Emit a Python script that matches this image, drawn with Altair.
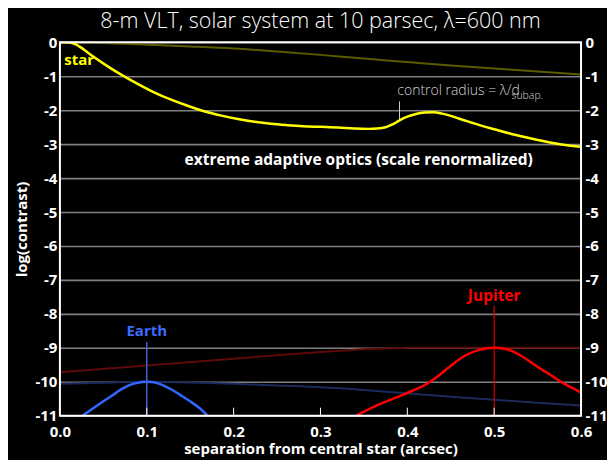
import altair as alt
import pandas as pd

# ---------------- data ----------------
star_x = [0.0, 0.008, 0.016, 0.024, 0.032, 0.04, 0.055, 0.071, 0.09, 0.109, 0.128, 0.147,
          0.166, 0.186, 0.205, 0.224, 0.243, 0.262, 0.28, 0.30, 0.32, 0.339, 0.355, 0.365,
          0.375, 0.383, 0.391, 0.40, 0.41, 0.42, 0.43, 0.44, 0.46, 0.483, 0.50, 0.52, 0.54,
          0.56, 0.58, 0.60]
star_y = [0.0, 0.0, -0.04, -0.15, -0.3, -0.45, -0.71, -0.96, -1.23, -1.48, -1.69, -1.87,
          -2.03, -2.16, -2.26, -2.34, -2.40, -2.44, -2.47, -2.49, -2.51, -2.54, -2.55, -2.54,
          -2.5, -2.42, -2.3, -2.19, -2.11, -2.07, -2.06, -2.1, -2.25, -2.44, -2.56, -2.7, -2.82,
          -2.93, -3.02, -3.08]

star_dim_x = [0.0, 0.05, 0.1, 0.15, 0.2, 0.25, 0.3, 0.35, 0.4, 0.45, 0.5, 0.55, 0.6]
star_dim_y = [0.0, -0.02, -0.07, -0.12, -0.18, -0.27, -0.37, -0.48, -0.58, -0.68, -0.77, -0.86, -0.95]

earth_x = [0.026, 0.04, 0.054, 0.065, 0.073, 0.08, 0.088, 0.094, 0.1, 0.106, 0.112, 0.12,
           0.13, 0.14, 0.149, 0.16, 0.17]
earth_y = [-11.0, -10.75, -10.51, -10.32, -10.19, -10.1, -10.04, -10.01, -10.0, -10.01, -10.04,
           -10.12, -10.25, -10.41, -10.56, -10.76, -11.0]

earth_dim_x = [0.0, 0.05, 0.1, 0.15, 0.2, 0.25, 0.3, 0.35, 0.4, 0.45, 0.5, 0.55, 0.6]
earth_dim_y = [-10.06, -10.03, -10.0, -10.02, -10.06, -10.11, -10.16, -10.24, -10.34, -10.44,
               -10.53, -10.62, -10.7]

jup_x = [0.341, 0.368, 0.399, 0.425, 0.44, 0.452, 0.465, 0.479, 0.49, 0.5, 0.51, 0.52, 0.535,
         0.548, 0.565, 0.578, 0.59, 0.6]
jup_y = [-11.0, -10.66, -10.34, -10.02, -9.74, -9.49, -9.25, -9.09, -9.02, -9.0, -9.02, -9.09,
         -9.3, -9.53, -9.8, -10.02, -10.18, -10.32]

jup_dim_x = [0.0, 0.1, 0.2, 0.3, 0.35, 0.4, 0.5, 0.6]
jup_dim_y = [-9.72, -9.52, -9.32, -9.12, -9.04, -9.0, -9.0, -9.0]

y_ticks = [0, -1, -2, -3, -4, -5, -6, -7, -8, -9, -10, -11]
x_ticks = [0.0, 0.1, 0.2, 0.3, 0.4, 0.5, 0.6]
inner_ticks = [0.1, 0.2, 0.3, 0.4, 0.5]

earth_sep, earth_line_top, earth_label_y = 0.1, -8.83, -8.51
jup_sep, jup_line_top, jup_label_y = 0.5, -7.75, -7.46
ctrl_sep, ctrl_top, ctrl_bottom = 0.391, -1.74, -2.28

# ---------------- scales ----------------
xs = alt.Scale(domain=[0, 0.6], nice=False, zero=False)
ys = alt.Scale(domain=[-11, 0], nice=False, zero=False)

FONT = "Open Sans"
HYPHEN = "toString(datum.value)"


def line(xv, yv, color, width, interp="monotone"):
    df = pd.DataFrame({"x": xv, "y": yv})
    return alt.Chart(df).mark_line(color=color, strokeWidth=width, interpolate=interp, clip=True).encode(
        x=alt.X("x:Q", scale=xs, axis=None),
        y=alt.Y("y:Q", scale=ys, axis=None),
    )


# axes + grid layer
left_axis = alt.Chart(pd.DataFrame({"x": star_dim_x, "y": star_dim_y})).mark_line(
    color="#5a5a00", strokeWidth=2, interpolate="monotone"
).encode(
    x=alt.X("x:Q", scale=xs, axis=alt.Axis(
        values=x_ticks, format=".1f", title="separation from central star (arcsec)",
        labelFont=FONT, labelFontWeight="bold", labelFontSize=15, labelColor="white",
        titleFont=FONT, titleFontWeight="bold", titleFontSize=15, titleColor="white",
        ticks=False, labelPadding=9, titlePadding=2, domain=False, grid=False,
        labelFlush=False)),
    y=alt.Y("y:Q", scale=ys, axis=alt.Axis(
        values=y_ticks, title="log(contrast)", orient="left", labelExpr=HYPHEN,
        labelFont=FONT, labelFontWeight="bold", labelFontSize=15, labelColor="white",
        titleFont=FONT, titleFontWeight="bold", titleFontSize=15, titleColor="white",
        ticks=False, labelPadding=3, titlePadding=5, domain=False,
        grid=True, gridColor="#7f7f7f", gridWidth=1.6, labelFlush=False)),
)

right_axis = alt.Chart(pd.DataFrame({"x": star_dim_x, "y": star_dim_y})).mark_line(
    opacity=0
).encode(
    x=alt.X("x:Q", scale=xs, axis=None),
    y=alt.Y("y:Q", scale=ys, axis=alt.Axis(
        values=y_ticks, title=None, orient="right", labelExpr=HYPHEN,
        labelFont=FONT, labelFontWeight="bold", labelFontSize=15, labelColor="white",
        ticks=False, labelPadding=4, domain=False, grid=False, labelFlush=False)),
)

ticks_df = pd.DataFrame({"x": inner_ticks})
inner_tick_layer = alt.Chart(ticks_df).mark_rule(color="white", strokeWidth=1).encode(
    x=alt.X("x:Q", scale=xs, axis=None),
    y=alt.value(374), y2=alt.value(366),
)

vlines_df = pd.DataFrame({
    "x": [earth_sep, jup_sep, ctrl_sep],
    "y": [earth_line_top, jup_line_top, ctrl_top],
    "y2": [-11, -11, ctrl_bottom],
    "c": ["#3d63d8", "#d00000", "#d0d0d0"],
    "w": [1.5, 1.2, 1.0],
})
vlines = alt.Chart(vlines_df).mark_rule().encode(
    x=alt.X("x:Q", scale=xs, axis=None),
    y=alt.Y("y:Q", scale=ys, axis=None),
    y2="y2:Q",
    color=alt.Color("c:N", scale=None),
    strokeWidth=alt.StrokeWidth("w:Q", scale=None),
)


def label(text, xv, yv, color, size, weight="bold", align="center", font=FONT):
    df = pd.DataFrame({"x": [xv], "y": [yv], "t": [text]})
    return alt.Chart(df).mark_text(
        color=color, fontSize=size, fontWeight=weight, align=align, baseline="middle", font=font
    ).encode(
        x=alt.X("x:Q", scale=xs, axis=None),
        y=alt.Y("y:Q", scale=ys, axis=None),
        text="t:N",
    )


labels = [
    label("star", 0.005, -0.51, "#ffff00", 15, align="left"),
    label("Earth", earth_sep, earth_label_y, "#3d6bff", 15),
    label("Jupiter", jup_sep, jup_label_y, "#ff0000", 15.5),
    label("extreme adaptive optics (scale renormalized)", 0.344, -3.46, "white", 15.5),
    label("control radius = λ/d", 0.3885, -1.42, "#d0d0d0", 14, weight=300, align="left"),
    label("subap.", 0.52, -1.57, "#d0d0d0", 10.5, weight=300, align="left"),
]

frame = alt.Chart(pd.DataFrame({"a": [0]})).mark_rect(
    fill=None, stroke="white", strokeWidth=2
).encode(x=alt.value(0), x2=alt.value(522), y=alt.value(0), y2=alt.value(374))

chart = alt.layer(
    left_axis,
    right_axis,
    line(earth_dim_x, earth_dim_y, "#1b2a5c", 2),
    line(jup_dim_x, jup_dim_y, "#5c0a0a", 2, interp="linear"),
    vlines,
    line(star_x, star_y, "#ffff00", 2.5),
    line(earth_x, earth_y, "#3366ff", 2.5),
    line(jup_x, jup_y, "#ff0000", 2.5),
    inner_tick_layer,
    frame,
    *labels,
).resolve_axis(x="independent", y="independent").properties(
    width=522,
    height=374,
    title=alt.TitleParams(
        "8-m VLT, solar system at 10 parsec, λ=600 nm",
        color="white", font=FONT, fontSize=21.5, fontWeight=300, offset=3, anchor="middle",
    ),
    background="black",
    padding={"left": 52, "top": 34, "right": 26, "bottom": 44},
    autosize=alt.AutoSizeParams(type="none"),
).configure_view(stroke=None)

chart.save("out.html", embed_options={"renderer": "svg", "actions": False})
